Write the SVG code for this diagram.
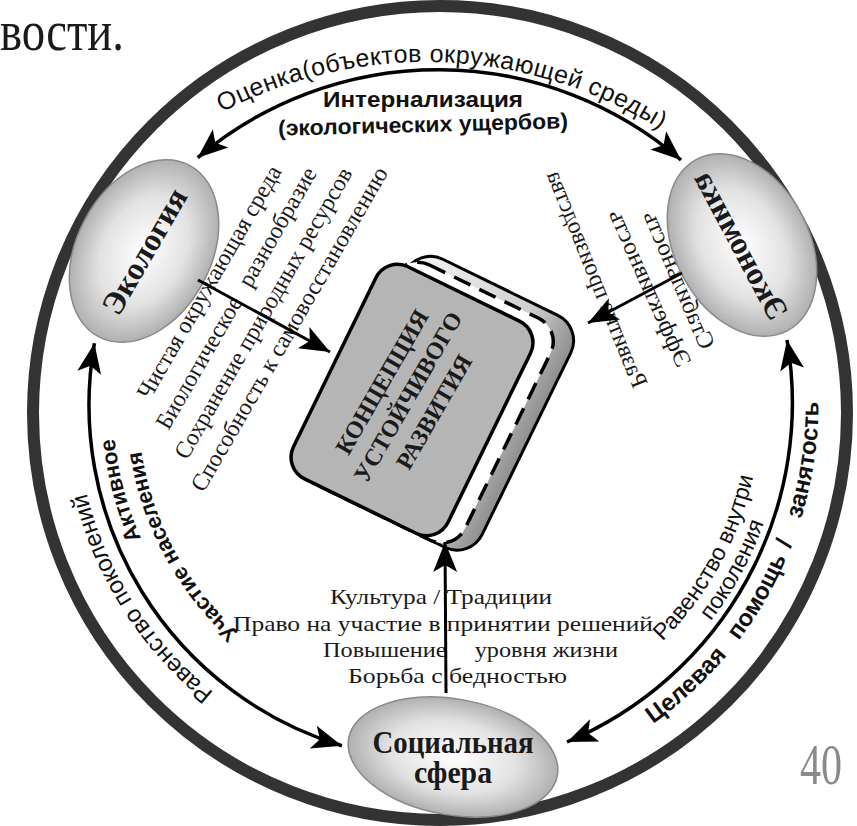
<svg xmlns="http://www.w3.org/2000/svg" width="857" height="826" viewBox="0 0 857 826">
<defs>
<style>
.sans{font-family:"Liberation Sans",Arial,sans-serif;fill:#111}
.serif{font-family:"Liberation Serif","Times New Roman",serif;fill:#1a1a1a}
.b{font-weight:bold}
.conn{fill:none;stroke:#000;stroke-width:3.5;marker-start:url(#ah);marker-end:url(#ah)}
.arr{fill:none;stroke:#000;stroke-width:3;marker-end:url(#ah)}
.ell{stroke:#8a8a8a;stroke-width:1.5;fill:url(#eg)}
</style>
<radialGradient id="eg" cx="0.5" cy="0.5" r="0.55">
<stop offset="0" stop-color="#ffffff"/>
<stop offset="0.55" stop-color="#e2e2e2"/>
<stop offset="1" stop-color="#a4a4a4"/>
</radialGradient>
<linearGradient id="bg" x1="0" y1="0" x2="1" y2="0">
<stop offset="0" stop-color="#f4f4f4"/>
<stop offset="0.7" stop-color="#cfcfcf"/>
<stop offset="1" stop-color="#8e8e8e"/>
</linearGradient>
<marker id="ah" markerUnits="userSpaceOnUse" viewBox="-32 -14 34 28" markerWidth="34" markerHeight="28" refX="0" refY="0" orient="auto-start-reverse">
<path d="M0,0 L-30,-12 L-23,0 L-30,12 Z" fill="#000"/>
</marker>
<path id="pTop" d="M192.8,128.9 A440,440 0 0 1 684.6,146"/>
<path id="pLO" d="M318.8,751.7 A369,369 0 0 1 98.3,278.8"/>
<path id="pLI1" d="M331.4,717 A332,332 0 0 1 133,291.4"/>
<path id="pLI2" d="M340,693.5 A307,307 0 0 1 156.5,300"/>
<path id="pRO" d="M621.5,744 A394,394 0 0 0 817,368.5"/>
<path id="pRI1" d="M593,694.6 A337,337 0 0 0 760.2,373.4"/>
<path id="pRI2" d="M604.5,714.6 A360,360 0 0 0 783.1,371.4"/>
</defs>
<rect width="857" height="826" fill="#fff"/>
<text class="serif" x="0" y="50" font-size="56" textLength="124" lengthAdjust="spacingAndGlyphs">вости.</text>
<text x="800" y="784" font-family="Liberation Serif, serif" font-size="58" fill="#8a8a8a" textLength="42" lengthAdjust="spacingAndGlyphs">40</text>
<circle id="ring" cx="440" cy="413" r="407" fill="none" stroke="#333" stroke-width="12"/>

<g id="node-ecology">
<ellipse class="ell" cx="0" cy="0" rx="97" ry="67" transform="translate(144,251) rotate(-62)"/>
<text class="serif b" font-size="32" text-anchor="middle" transform="translate(144,251) rotate(-60)" y="11">Экология</text>
</g>
<g id="node-economy">
<ellipse class="ell" cx="0" cy="0" rx="97" ry="67" transform="translate(742,245) rotate(62)"/>
<text class="serif b" font-size="32" text-anchor="middle" transform="translate(742,245) scale(-1,1) rotate(-62)" y="11">Экономика</text>
</g>
<g id="node-social">
<ellipse class="ell" cx="0" cy="0" rx="106" ry="58" transform="translate(453,757) rotate(10)"/>
<text class="serif b" font-size="32" x="453" y="753" text-anchor="middle" textLength="161" lengthAdjust="spacingAndGlyphs">Социальная</text>
<text class="serif b" font-size="32" x="453" y="783" text-anchor="middle" textLength="78" lengthAdjust="spacingAndGlyphs">сфера</text>
</g>
<g id="node-concept">
<g transform="translate(412,400) rotate(26)">
<rect x="-62" y="-140" width="184" height="258" rx="28" fill="url(#bg)" stroke="#000" stroke-width="3"/>
<rect x="-70" y="-129" width="174" height="247" rx="26" fill="#fff" stroke="#000" stroke-width="3.5" stroke-dasharray="18 10"/>
<rect x="-86" y="-118" width="172" height="236" rx="24" fill="#b5b5b5" stroke="#000" stroke-width="3.5"/>
</g>
<g class="serif b" font-size="24" text-anchor="middle" transform="translate(408,397) rotate(-60)">
<text y="-22">КОНЦЕПЦИЯ</text>
<text y="8">УСТОЙЧИВОГО</text>
<text y="38">РАЗВИТИЯ</text>
</g>
</g>

<g id="ecology-values" class="serif" font-size="24" text-anchor="middle">
<text transform="translate(216,286) rotate(-60)" textLength="265" lengthAdjust="spacingAndGlyphs">Чистая окружающая среда</text>
<text transform="translate(243,302) rotate(-60)" textLength="298" lengthAdjust="spacingAndGlyphs">Биологическое<tspan dx="10"> разнообразие</tspan></text>
<text transform="translate(270,317) rotate(-60)" textLength="332" lengthAdjust="spacingAndGlyphs">Сохранение природных ресурсов</text>
<text transform="translate(296,333) rotate(-60)" textLength="370" lengthAdjust="spacingAndGlyphs">Способность к самовосстановлению</text>
</g>
<g id="economy-values" class="serif" font-size="24" text-anchor="middle">
<text transform="translate(672,283) scale(-1,1) rotate(-67)" textLength="148" lengthAdjust="spacingAndGlyphs">Стабильность</text>
<text transform="translate(643,291) scale(-1,1) rotate(-66)" textLength="170" lengthAdjust="spacingAndGlyphs">Эффективность</text>
<text transform="translate(590,282) scale(-1,1) rotate(-68)" textLength="232" lengthAdjust="spacingAndGlyphs">Развитие производства</text>
</g>
<g id="social-values" class="serif" font-size="22">
<text x="330" y="604" textLength="222" lengthAdjust="spacingAndGlyphs">Культура / Традиции</text>
<text x="233" y="631" textLength="420" lengthAdjust="spacingAndGlyphs">Право на участие в принятии решений</text>
<text x="323" y="657" textLength="295" lengthAdjust="spacingAndGlyphs">Повышение<tspan dx="20"> уровня жизни</tspan></text>
<text x="348" y="683" textLength="219" lengthAdjust="spacingAndGlyphs">Борьба с бедностью</text>
</g>

<g id="connectors">
<path class="conn" d="M197.7,157.7 A372,372 0 0 1 681,160"/>
<path class="conn" d="M94.4,343.2 A356,356 0 0 0 342,745.8"/>
<path class="conn" d="M787,340 A368,368 0 0 1 567,742"/>
<path class="arr" d="M198,280 L330,352"/>
<path class="arr" d="M682,273 L588,323"/>
<path class="arr" d="M446,693 L445,542"/>
</g>

<g id="connector-labels">
<text class="sans" font-size="25" letter-spacing="0.45"><textPath href="#pTop" startOffset="263.4" text-anchor="middle">Оценка(объектов окружающей среды)</textPath></text>
<text class="sans b" font-size="22" x="423" y="107" text-anchor="middle" textLength="200" lengthAdjust="spacingAndGlyphs">Интернализация</text>
<text class="sans b" font-size="22" x="423" y="132" text-anchor="middle" textLength="290" lengthAdjust="spacingAndGlyphs" transform="rotate(-1.5 423 125)">(экологических ущербов)</text>
<text class="sans" font-size="24"><textPath href="#pLO" startOffset="241.5" text-anchor="middle">Равенство поколений</textPath></text>
<text class="sans b" font-size="22"><textPath href="#pLI1" startOffset="320" text-anchor="middle">Активное</textPath></text>
<text class="sans b" font-size="22"><textPath href="#pLI2" startOffset="224" text-anchor="middle">Участие населения</textPath></text>
<text class="sans b" font-size="24"><textPath href="#pRO" startOffset="88" text-anchor="middle">Целевая</textPath></text>
<text class="sans b" font-size="24"><textPath href="#pRO" startOffset="205" text-anchor="middle">помощь</textPath></text>
<text class="sans b" font-size="24"><textPath href="#pRO" startOffset="266" text-anchor="middle">/</textPath></text>
<text class="sans b" font-size="24"><textPath href="#pRO" startOffset="354" text-anchor="middle">занятость</textPath></text>
<text class="sans" font-size="23"><textPath href="#pRI1" startOffset="183" text-anchor="middle">Равенство внутри</textPath></text>
<text class="sans" font-size="23"><textPath href="#pRI2" startOffset="198.5" text-anchor="middle">поколения</textPath></text>
</g>
</svg>
